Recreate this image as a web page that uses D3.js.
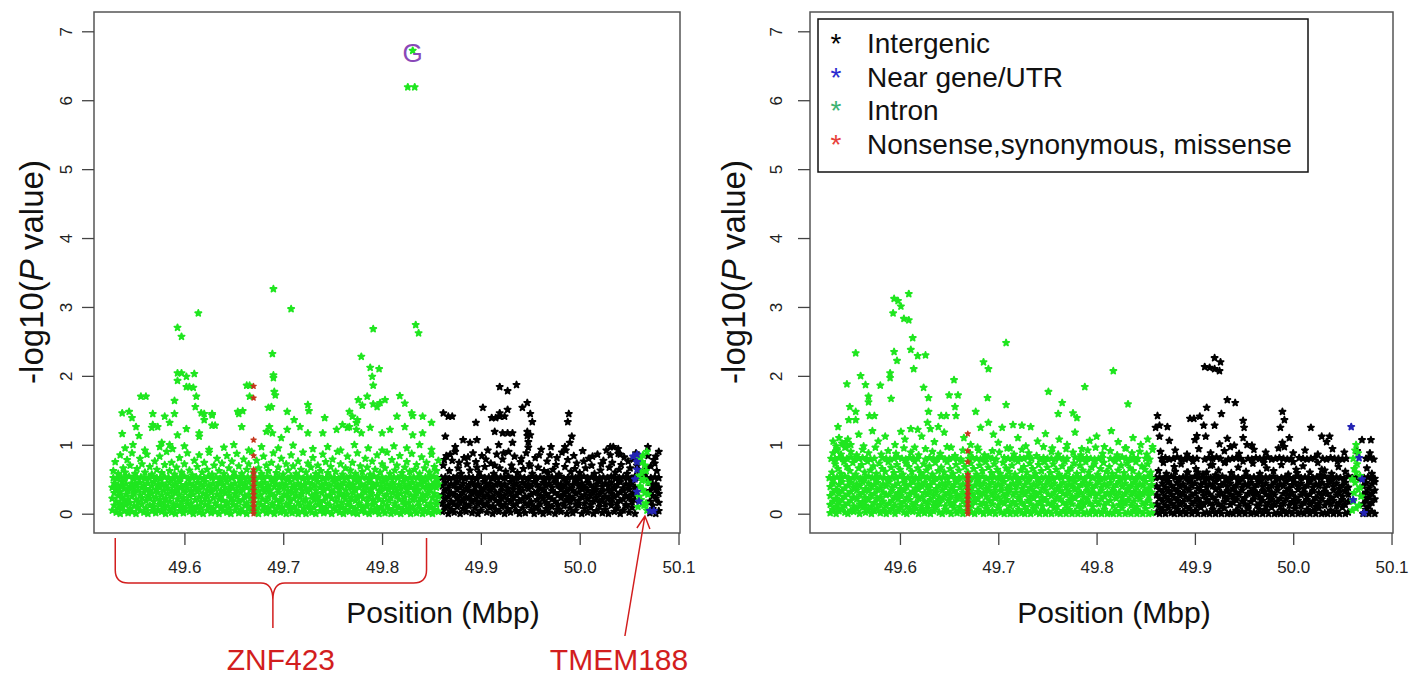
<!DOCTYPE html>
<html><head><meta charset="utf-8">
<script src="https://cdn.jsdelivr.net/npm/d3@7"></script>
<style>body{margin:0;background:#fff}svg{display:block}text{font-family:"Liberation Sans",Arial,sans-serif}</style>
</head><body>
<svg id="c" width="1415" height="678"></svg>
<script>
// Each row: [position in kb above 49,500 kb, -log10(P) x100 for each SNP at that position ...]
const leftIntron = [
[331,672],[326,619],[333,619],[93,270],[97,257],[114,291],[190,326],[208,297],[291,268],[334,274],[337,262],[189,232],[279,228],[288,212],[297,210],[290,199],[291,186],[93,204],[97,204],[102,199],[110,203],[102,184],[105,184],[109,183],[93,193],[190,201,197],[191,177],[192,172],[188,155],[185,154],[163,186],[166,186,170],[56,170],[61,170],[90,164],[112,170],[111,155],[117,146],[120,145],[128,145],[37,146],[44,148],[47,139],[68,145],[80,141],[90,145],[68,129],[67,125],[54,113],[37,116],[77,103],[85,100],[93,114],[102,123],[115,117,112],[128,128],[155,145],[159,149],[204,148],[211,136],[225,158],[226,149],[242,139],[267,148],[270,141],[274,132],[276,165],[280,157],[285,170],[291,159],[295,155],[298,161],[303,165],[318,171],[323,160],[330,146],[331,142],[350,132],[260,129],[265,125],[274,122],[51,126],[73,126],[85,132],[120,136],[128,143],[131,128],[154,148],[158,126],[186,126],[183,119],[189,117],[198,110],[204,122],[217,126],[225,117],[240,117],[254,122],[267,126],[275,136],[279,117],[288,125],[300,117],[308,122],[315,141],[323,126],[331,114],[341,117,141],[40,95],[48,100],[60,92],[75,97],[88,94],[100,98],[125,93],[140,96],[150,100],[165,92],[178,97],[195,95],[210,99],[230,94],[245,97],[258,92],[272,100],[286,95],[300,92],[312,98],[325,95],[338,100],[350,93],
[28,62],[30,75],[33,58],[35,85],[38,66],[40,60],[42,78],[45,70],[47,88],[50,58],[52,65],[55,80],[57,72],[60,60],[62,86],[65,68],[67,57],[70,76],[72,64],[75,83],[77,59],[80,71],[82,90],[85,62],[87,74],[90,57],[92,67],[95,81],[97,60],[100,72],[103,88],[105,63],[108,56],[110,77],[113,68],[115,85],[118,60],[120,74],[123,64],[125,89],[128,57],[130,70],[133,80],[135,62],[138,73],[140,58],[143,84],[145,66],[148,76],[150,60],[153,87],[155,69],[158,58],[160,79],[163,64],[165,72],[168,90],[170,60],[173,77],[175,66],[178,58],[180,83],[183,70],[185,62],[188,74],[190,88],[193,59],[195,67],[198,80],[200,57],[203,72],[205,63],[208,85],[210,69],[213,58],[215,76],[218,64],[220,89],[223,60],[225,73],[228,67],[230,81],[233,58],[235,70],[238,62],[240,86],[243,75],[245,59],[248,68],[250,79],[253,61],[255,90],[258,72],[260,57],[263,66],[265,83],[268,63],[270,74],[273,58],[275,88],[278,69],[280,61],[283,80],[285,67],[288,57],[290,76],[293,64],[295,85],[298,60],[300,72],[303,66],[305,89],[308,58],[310,78],[313,63],[315,70],[318,84],[320,59],[323,67],[325,75],[328,61],[330,87],[333,64],[335,71],[338,58],[340,82],[343,66],[345,74],[348,60],[350,86],[353,68],[355,62],[357,77],
[28,52],[32,51],[36,53],[40,52],[44,54],[48,51],[52,52],[56,53],[60,51],[64,52],[68,54],[72,52],[76,51],[80,53],[84,52],[88,51],[92,53],[96,52],[100,54],[104,51],[108,52],[112,53],[116,52],[120,51],[124,54],[128,52],[132,53],[136,51],[140,52],[144,53],[148,52],[152,54],[156,51],[160,52],[164,53],[168,52],[172,51],[176,53],[180,52],[184,54],[188,51],[192,52],[196,53],[200,52],[204,51],[208,54],[212,52],[216,53],[220,51],[224,52],[228,53],[232,52],[236,54],[240,51],[244,52],[248,53],[252,52],[256,51],[260,53],[264,52],[268,54],[272,51],[276,52],[280,53],[284,52],[288,51],[292,54],[296,52],[300,53],[304,51],[308,52],[312,53],[316,52],[320,54],[324,51],[328,52],[332,53],[336,52],[340,51],[344,53],[348,52],[352,54],[356,51],
[27,5,22,38],[29,12,30,44],[31,2,18,35],[33,8,26,41],[35,0,15,32],[37,10,24,40,46],[39,4,19,36],[41,13,28,43],[43,1,21,33],[45,7,16,39],[47,3,25,44],[49,11,30,37],[51,0,20,42],[53,9,17,34],[55,5,27,45],[57,14,23,38],[59,2,31,41],[61,8,19,36],[63,0,26,44],[65,12,22,33],[67,4,29,40],[69,10,18,46],[71,1,24,35],[73,6,31,42],[75,13,20,38],[77,3,27,44],[79,9,16,34],[81,0,22,41],[83,11,29,37],[85,5,18,45],[87,2,25,33],[89,8,14,40],[91,0,30,43],[93,12,21,36],[95,4,27,46],[97,10,17,39],[99,1,23,34],[101,7,31,42],[103,14,19,37],[105,3,26,44],[107,9,15,33],[109,0,28,41],[111,6,20,38],[113,11,32,45],[115,2,24,35],[117,8,17,42],[119,0,29,39],[121,13,22,46],[123,5,26,34],[125,10,18,41],[127,1,31,37],[129,7,23,44],[131,3,15,36],[133,12,28,40],[135,0,21,45],[137,9,25,33],[139,4,19,42],[141,11,30,38],[143,2,16,46],[145,8,27,35],[147,0,22,41],[149,13,18,37],[151,5,29,44],[153,10,24,34],[155,1,17,40],[157,6,31,45],[159,3,20,36],[161,12,26,43],[163,0,15,38],[165,9,28,46],[167,4,22,35],[169,11,19,41],[171,2,30,37],[173,7,25,44],[175,0,16,33],[177,13,27,42],[179,5,21,38],[181,10,32,45],[183,1,18,36],[185,8,24,41],[187,3,29,34],[189,12,15,46],[191,0,26,39],[193,6,20,43],[195,11,31,35],[197,2,17,40],[199,9,23,44],[201,4,28,37],[203,0,14,42],[205,13,25,33],[207,7,19,46],[209,1,30,38],[211,10,22,41],[213,5,27,35],[215,0,16,44],[217,12,24,39],[219,3,29,34],[221,8,18,42],[223,0,21,37],[225,11,32,45],[227,6,15,36],[229,2,26,43],[231,9,20,40],[233,0,28,34],[235,13,23,46],[237,4,17,38],[239,10,30,42],[241,1,19,35],[243,7,25,44],[245,3,14,37],[247,12,27,41],[249,0,22,33],[251,8,31,46],[253,5,18,39],[255,11,24,43],[257,2,29,36],[259,9,16,41],[261,0,26,45],[263,6,21,34],[265,13,28,40],[267,3,17,44],[269,10,23,37],[271,1,30,42],[273,7,19,35],[275,0,25,46],[277,12,15,38],[279,4,27,43],[281,9,22,34],[283,2,31,41],[285,11,18,37],[287,0,24,45],[289,6,29,36],[291,13,20,42],[293,3,16,39],[295,8,26,44],[297,0,21,33],[299,10,32,40],[301,5,17,46],[303,1,25,37],[305,12,28,43],[307,7,19,35],[309,0,23,41],[311,4,30,45],[313,11,15,38],[315,2,26,34],[317,9,21,42],[319,0,29,37],[321,6,18,46],[323,13,24,40],[325,3,31,35],[327,8,16,43],[329,0,27,38],[331,10,20,45],[333,5,25,36],[335,1,30,41],[337,12,17,34],[339,7,22,44],[341,0,28,39],[343,4,19,46],[345,11,26,37],[347,2,31,42],[349,9,15,35],[351,0,23,40],[353,6,29,45],[355,13,18,38],[357,3,25,43],
[559,10],[560,25,55],[561,40,80],[562,60,20],[563,75,48],[564,85,35],[565,50,12],[566,30,70],[567,15,62],[568,5,90],[569,45,28]
];
const leftIntergenic = [
[419,184],[427,178],[436,187],[447,161],[442,154],[402,154],[362,146],[367,141],[371,141],[395,132],[411,139],[415,139],[419,146,141],[424,141],[427,151],[450,145],[452,133],[489,145],[488,133],[364,112],[414,119],[422,117],[427,117],[432,103,117],[418,100],[450,114],[448,104,96],[447,119,113],[382,107],[389,103],[396,107],[374,97],[492,112],[490,103],[471,97],[485,97],[531,97],[539,94],[534,97],[541,86],[569,97],[577,83],
[362,70],[365,84],[368,62],[371,77],[374,90],[377,66],[380,58],[383,81],[386,72],[389,63],[392,88],[395,75],[398,60],[401,84],[404,68],[407,92],[410,73],[413,58],[416,86],[419,66],[422,79],[425,61],[428,90],[431,70],[434,83],[437,59],[440,75],[443,65],[446,88],[449,72],[452,58],[455,81],[458,67],[461,93],[464,62],[467,76],[470,85],[473,64],[476,71],[479,57],[482,89],[485,68],[488,78],[491,61],[494,84],[497,73],[500,59],[503,91],[506,66],[509,80],[512,70],[515,58],[518,86],[521,63],[524,77],[527,92],[530,67],[533,74],[536,60],[539,87],[542,71],[545,82],[548,58],[551,66],[554,79],[557,88],[560,63],[563,75],[566,57],[569,84],[572,69],[575,78],[578,62],[580,90],
[363,78],[369,86],[378,74],[387,82],[396,67],[405,79],[414,70],[423,88],[432,64],[441,80],[450,69],[459,85],[468,60],[477,81],[486,92],[495,65],[504,76],[513,83],[522,72],[531,85],[540,64],[549,76],[558,70],[567,66],[576,73],
[360,52],[364,53],[368,51],[372,52],[376,54],[380,52],[384,51],[388,53],[392,52],[396,51],[400,54],[404,52],[408,53],[412,51],[416,52],[420,53],[424,52],[428,54],[432,51],[436,52],[440,53],[444,52],[448,51],[452,54],[456,52],[460,53],[464,51],[468,52],[472,53],[476,52],[480,54],[484,51],[488,52],[492,53],[496,52],[500,51],[504,54],[508,52],[512,53],[516,51],[520,52],[524,53],[528,52],[532,54],[536,51],[540,52],[544,53],[548,52],[552,51],[556,54],[560,52],[564,53],[568,51],[572,52],[576,53],[580,52],
[361,3,15,27,40],[364,9,21,33,45],[367,0,12,25,37],[370,6,18,30,43],[373,2,14,28,41],[376,10,22,35,46],[379,0,16,26,38],[382,7,19,31,44],[385,3,13,24,36],[388,11,23,34,42],[391,1,17,29,45],[394,8,20,32,39],[397,0,14,26,43],[400,5,18,30,37],[403,12,24,35,46],[406,2,15,27,40],[409,9,21,33,44],[412,0,11,25,38],[415,6,19,31,42],[418,3,16,28,45],[421,10,22,34,39],[424,0,13,26,43],[427,7,20,32,37],[430,2,17,29,46],[433,11,23,35,40],[436,4,14,27,44],[439,0,19,31,38],[442,8,21,33,45],[445,1,15,25,41],[448,12,24,36,43],[451,5,17,28,39],[454,0,10,30,46],[457,9,20,32,42],[460,3,14,26,37],[463,0,22,34,45],[466,7,16,29,40],[469,2,12,24,44],[472,10,21,33,38],[475,0,18,30,46],[478,6,13,27,41],[481,3,23,35,43],[484,11,15,28,39],[487,0,20,32,45],[490,8,17,25,37],[493,1,22,34,42],[496,5,14,29,46],[499,12,19,31,40],[502,0,24,36,44],[505,7,15,27,38],[508,2,21,33,45],[511,9,13,26,41],[514,0,18,30,37],[517,4,23,35,43],[520,10,16,28,46],[523,1,20,32,39],[526,6,14,25,44],[529,0,22,34,40],[532,12,17,29,45],[535,3,24,36,38],[538,8,15,27,42],[541,0,19,31,46],[544,5,21,33,37],[547,11,13,26,43],[550,2,23,35,40],[553,9,17,28,45],[556,0,20,30,38],[571,1,18,33,45],[574,7,12,26,40],[577,0,22,35,43],[580,4,16,29,38]
];
const leftNearGene = [[558,86,75,64,32],[554,83],[571,4],[575,4],[556,50],[560,18]];
const leftCoding = [[170,185,168,107,84,64,58,52,46,40,34,28,22,16,10,4,0]];

const rightIntron = [
[94,312],[98,309],[101,301],[109,319],[93,291],[104,283],[109,281],[113,255],[111,238],[118,229],[126,230],[114,210],[94,235],[97,222],[55,233],[90,204,197],[60,200],[46,188],[65,187],[80,186],[68,170,162],[91,167],[124,183],[129,168],[155,194],[150,172],[159,172],[156,155],[157,142],[185,220],[190,210],[208,248],[189,168],[208,158],[251,177],[265,161],[288,184],[317,207],[332,159],[261,145],[276,146],[280,139],[49,155],[55,148],[48,136],[55,136],[37,126],[69,142],[74,142],[129,148],[128,132],[142,142],[147,142],[177,148],[182,125],[190,132],[204,125],[215,129],[224,128],[233,126],[131,123],[139,126],[118,122],[111,123],[101,119],[45,104],[32,105],[35,98],[38,110],[41,102],[44,96],[47,108],[50,100],[36,92],[58,115],[63,98],[72,120],[78,105],[85,112],[95,100],[105,108],[115,96],[122,112],[135,104],[145,118],[152,96],[165,110],[172,100],[180,92],[195,115],[200,103],[212,95],[220,110],[228,98],[240,105],[248,116],[255,95],[262,108],[270,100],[278,118],[285,94],[293,106],[300,112],[308,97],[315,120],[322,104],[330,95],[337,110],[345,100],[352,108],[357,93],
[32,88],[36,94],[40,86],[45,97],[50,90],[56,85],[62,93],[68,88],[75,96],[81,86],[88,91],[96,87],[104,95],[111,89],[119,85],[126,94],[133,90],[141,87],[148,97],[156,84],[164,92],[171,88],[179,96],[186,85],[194,91],[201,89],[209,95],[216,86],[224,93],[231,88],[239,84],[246,97],[254,90],[261,86],[269,94],[276,89],[284,85],[291,92],[299,96],[306,87],[314,91],[321,85],[329,95],[336,88],[344,90],[351,86],[357,97],
[30,80],[34,79],[38,81],[42,80],[46,80],[50,82],[54,79],[58,80],[62,81],[66,80],[70,79],[74,80],[82,81],[86,80],[90,79],[94,80],[98,82],[102,80],[106,79],[110,81],[114,80],[118,80],[126,79],[130,81],[134,80],[138,80],[142,82],[146,79],[150,80],[154,81],[158,80],[162,79],[170,80],[174,81],[178,80],[182,79],[186,80],[190,82],[194,80],[198,79],[206,81],[210,80],[214,80],[218,79],[222,81],[226,80],[230,82],[234,80],[242,79],[246,81],[250,80],[254,80],[258,79],[262,81],[266,80],[270,80],[278,82],[282,79],[286,80],[290,81],[294,80],[298,79],[302,80],[306,81],[314,80],[318,79],[322,80],[326,82],[330,80],[334,79],[338,81],[342,80],[350,80],[354,79],
[31,60],[34,72],[37,65],[40,58],[43,75],[46,68],[49,62],[52,74],[55,57],[58,66],[61,71],[64,60],[67,76],[70,63],[73,69],[76,58],[79,73],[82,65],[85,61],[88,75],[91,67],[94,59],[97,71],[100,64],[103,57],[106,73],[109,68],[112,61],[115,76],[118,66],[121,59],[124,72],[127,63],[130,69],[133,57],[136,74],[139,62],[142,67],[145,60],[148,75],[151,65],[154,58],[157,71],[160,63],[163,76],[166,68],[169,60],[172,73],[175,65],[178,57],[181,70],[184,62],[187,75],[190,67],[193,59],[196,72],[199,64],[202,58],[205,74],[208,66],[211,61],[214,70],[217,57],[220,76],[223,63],[226,68],[229,60],[232,73],[235,65],[238,58],[241,71],[244,62],[247,75],[250,67],[253,59],[256,72],[259,64],[262,57],[265,69],[268,76],[271,61],[274,66],[277,73],[280,58],[283,70],[286,63],[289,75],[292,60],[295,67],[298,72],[301,57],[304,65],[307,74],[310,61],[313,68],[316,58],[319,76],[322,63],[325,70],[328,59],[331,73],[334,66],[337,62],[340,75],[343,57],[346,69],[349,64],[352,72],[355,60],
[28,52],[32,51],[36,53],[40,52],[44,54],[48,51],[52,52],[56,53],[60,51],[64,52],[68,54],[72,52],[76,51],[80,53],[84,52],[88,51],[92,53],[96,52],[100,54],[104,51],[108,52],[112,53],[116,52],[120,51],[124,54],[128,52],[132,53],[136,51],[140,52],[144,53],[148,52],[152,54],[156,51],[160,52],[164,53],[168,52],[172,51],[176,53],[180,52],[184,54],[188,51],[192,52],[196,53],[200,52],[204,51],[208,54],[212,52],[216,53],[220,51],[224,52],[228,53],[232,52],[236,54],[240,51],[244,52],[248,53],[252,52],[256,51],[260,53],[264,52],[268,54],[272,51],[276,52],[280,53],[284,52],[288,51],[292,54],[296,52],[300,53],[304,51],[308,52],[312,53],[316,52],[320,54],[324,51],[328,52],[332,53],[336,52],[340,51],[344,53],[348,52],[352,54],[356,51],
[29,1,13,26,39],[32,6,18,31,44],[35,0,10,22,35],[38,4,16,29,42],[41,8,20,33,46],[44,2,12,25,37],[47,0,15,28,41],[50,5,19,32,45],[53,3,11,24,38],[56,7,21,34,43],[59,0,14,27,40],[62,9,17,30,46],[65,2,12,23,36],[68,6,20,33,44],[71,0,10,26,39],[74,4,16,29,42],[77,8,22,35,45],[80,1,13,24,37],[83,5,18,31,43],[86,0,11,27,40],[89,3,15,28,46],[92,7,19,34,38],[95,0,12,25,41],[98,4,21,30,44],[101,9,14,26,36],[104,2,17,33,45],[107,0,10,23,39],[110,6,20,29,42],[113,3,13,32,46],[116,8,16,27,37],[119,0,22,35,43],[122,5,11,24,40],[125,1,18,30,45],[128,7,14,28,38],[131,0,20,33,42],[134,4,12,26,46],[137,9,17,31,36],[140,2,15,24,41],[143,0,21,34,44],[146,6,11,27,39],[149,3,19,30,45],[152,0,13,25,37],[155,8,16,33,42],[158,1,22,28,46],[161,5,10,24,38],[164,0,18,31,43],[167,4,14,26,40],[170,9,20,35,45],[173,2,12,29,37],[176,0,17,23,41],[179,6,21,32,46],[182,3,13,27,39],[185,0,16,30,44],[188,7,11,25,36],[191,1,19,34,42],[194,4,14,28,45],[197,0,22,31,38],[200,8,12,24,43],[203,2,18,33,40],[206,0,15,26,46],[209,5,20,29,37],[212,0,11,35,41],[215,3,17,27,44],[218,0,13,31,39],[221,6,21,24,45],[224,1,16,30,36],[227,0,10,28,42],[230,4,19,33,46],[233,0,14,25,38],[236,7,22,32,43],[239,2,12,27,40],[242,0,17,30,45],[245,5,11,23,37],[248,0,20,34,42],[251,3,15,28,46],[254,0,13,26,39],[257,8,18,31,44],[260,1,10,24,36],[263,0,21,33,41],[266,4,16,29,45],[269,0,12,27,38],[272,6,19,32,43],[275,0,14,25,40],[278,3,22,35,46],[281,0,11,28,37],[284,7,17,30,42],[287,0,13,24,45],[290,2,20,33,39],[293,0,15,27,44],[296,5,10,31,36],[299,0,18,26,41],[302,3,14,29,46],[305,0,21,34,38],[308,6,12,25,43],[311,0,16,30,40],[314,1,19,28,45],[317,0,11,33,37],[320,4,22,26,42],[323,0,13,31,46],[326,8,17,24,39],[329,0,15,29,44],[332,2,20,35,36],[335,0,12,27,41],[338,5,18,32,45],[341,0,10,25,38],[344,3,21,30,43],[347,0,14,28,40],[350,7,16,33,46],[353,0,19,26,37],[356,1,12,31,42],
[560,5,50],[561,18,80],[562,30,65],[563,45,92],[564,60,8,100],[565,72],[566,88,35],[567,12],[568,38,55],[569,25]
];
const rightIntergenic = [
[420,226],[426,220],[410,213],[415,212],[420,210],[425,207],[433,165],[441,161],[412,154],[427,145],[395,138],[399,138],[405,141],[409,128],[420,128],[362,142],[360,125],[364,128,112],[372,126],[374,106],[402,113],[400,107],[411,112],[425,101],[433,109],[436,97],[440,99],[449,135,110],[450,125],[453,100],[458,99],[489,148,103],[491,136,97],[487,125],[496,110],[518,125],[529,112],[537,112],[534,104],[570,107],[579,107],[365,90],[380,92],[392,86],[404,94],[416,88],[430,91],[445,87],[460,93],[472,89],[485,95],[500,88],[512,92],[525,86],[540,94],[552,89],[565,91],[578,88],[380,61],[392,60],[403,60],[412,60],[504,59],[529,64],[418,71],[430,74],
[363,62],[371,58],[379,68],[386,72],[393,60],[401,65],[408,57],[416,70],[424,63],[431,75],[437,59],[444,67],[452,61],[459,73],[466,58],[473,66],[480,62],[488,71],[495,57],[503,64],[510,69],[517,60],[525,74],[532,63],[539,58],[546,68],[553,61],[575,66],[580,58],[368,74],[398,76],[421,56],[449,76],[470,74],[500,75],[528,56],[545,76],
[366,80],[370,81],[374,79],[378,80],[382,82],[386,80],[390,79],[394,81],[398,80],[402,80],[410,79],[414,81],[418,80],[422,82],[426,80],[434,79],[438,80],[442,81],[446,80],[454,80],[458,79],[462,81],[466,80],[470,80],[474,82],[478,79],[482,80],[486,81],[490,80],[494,79],[498,80],[506,81],[510,80],[514,79],[518,80],[522,81],[530,80],[534,79],[538,81],[542,80],[546,80],[550,79],[554,80],[574,80],[578,81],[582,79],
[360,52],[364,53],[368,51],[372,52],[376,54],[380,52],[384,51],[388,53],[392,52],[396,51],[400,54],[404,52],[408,53],[412,51],[416,52],[420,53],[424,52],[428,54],[432,51],[436,52],[440,53],[444,52],[448,51],[452,54],[456,52],[460,53],[464,51],[468,52],[472,53],[476,52],[480,54],[484,51],[488,52],[492,53],[496,52],[500,51],[504,54],[508,52],[512,53],[516,51],[520,52],[524,53],[528,52],[532,54],[536,51],[540,52],[544,53],[548,52],[552,51],[556,54],[560,52],[564,53],[568,51],[572,52],[576,53],[580,52],[583,51],
[361,2,14,27,40],[364,0,9,22,35],[367,5,18,31,44],[370,0,12,25,38],[373,8,20,33,46],[376,1,15,28,41],[379,0,11,23,36],[382,6,19,32,45],[385,0,13,26,39],[388,3,17,30,43],[391,0,10,24,37],[394,7,21,34,46],[397,0,14,27,40],[400,4,18,29,44],[403,0,11,22,36],[406,9,16,33,42],[409,0,13,26,45],[412,2,20,31,38],[415,0,15,28,43],[418,6,12,24,40],[421,0,19,35,46],[424,3,14,27,37],[427,0,10,30,42],[430,8,17,25,45],[433,0,21,33,39],[436,1,13,28,44],[439,0,16,24,36],[442,5,20,31,41],[445,0,11,27,46],[448,3,18,34,38],[451,0,14,23,43],[454,7,10,29,40],[457,0,17,32,45],[460,2,21,26,37],[463,0,12,30,42],[466,6,15,24,46],[469,0,19,33,39],[472,4,11,28,44],[475,0,16,25,36],[478,9,20,31,41],[481,0,13,27,45],[484,1,18,34,38],[487,0,10,22,43],[490,5,15,29,40],[493,0,21,32,46],[496,3,12,26,37],[499,0,17,30,42],[502,7,14,24,45],[505,0,19,35,39],[508,2,11,27,44],[511,0,16,31,36],[514,6,20,25,41],[517,0,13,28,46],[520,4,18,33,38],[523,0,10,23,43],[526,8,15,30,40],[529,0,21,26,45],[532,1,12,32,37],[535,0,17,29,42],[538,5,14,24,46],[541,0,19,34,39],[544,3,11,27,44],[547,0,16,31,36],[550,9,20,25,41],[553,0,13,33,45],[556,2,18,28,38],[571,0,14,27,40],[574,6,19,31,45],[577,0,11,24,37],[580,3,16,29,43],[583,0,21,34,46]
];
const rightNearGene = [[559,126],[567,81],[572,1],[570,50],[561,20]];
const rightCoding = [[169,116,91,75,57,52,46,40,34,28,22,16,10,4,0]];

const xTicks = [49.6, 49.7, 49.8, 49.9, 50.0, 50.1];
const yTicks = [0, 1, 2, 3, 4, 5, 6, 7];
const legendLabels = ["Intergenic", "Near gene/UTR", "Intron", "Nonsense,synonymous, missense"];
const pointLabels = [{kb: 331, v: 672, text: "G"}];
const genes = [{name: "ZNF423", startKb: 30, endKb: 345}, {name: "TMEM188", kb: 568}];

// ---- styles ----
const ptColor = {inter: "#000000", near: "#2424b4", intron: "#1fe61f", coding: "#c4361c"};
const legColor = ["#000000", "#2b2bd0", "#3cb371", "#e8403a"];
const annRed = "#d21e1e";

const svg = d3.select("#c");
function toPts(rows) {
  const out = [];
  rows.forEach(r => { for (let j = 1; j < r.length; j++) out.push({pos: 49.5 + r[0] / 1000, p: r[j] / 100}); });
  return out;
}
const star = d3.symbol().type(d3.symbolStar).size(12)();
const starSmall = d3.symbol().type(d3.symbolStar).size(9)();

function panel(cfg) {
  const x = d3.scaleLinear().domain([49.5085, 50.1015]).range([cfg.x0, cfg.x1]);
  const y = d3.scaleLinear().domain([-0.28, 7.28]).range([533, 12]);
  const g = svg.append("g");
  const layers = [[cfg.inter, ptColor.inter, star, 1.8], [cfg.intron, ptColor.intron, star, 1.8],
                  [cfg.near, ptColor.near, star, 1.8], [cfg.coding, ptColor.coding, starSmall, 1.1]];
  layers.forEach(([rows, col, sym, sw]) => {
    g.append("g").selectAll("path").data(toPts(rows)).join("path")
      .attr("d", sym)
      .attr("transform", d => `translate(${x(d.pos).toFixed(1)},${y(d.p).toFixed(1)})`)
      .attr("fill", col).attr("stroke", col).attr("stroke-width", sw).attr("stroke-linejoin", "round");
  });
  g.append("rect").attr("x", cfg.x0).attr("y", 12).attr("width", cfg.x1 - cfg.x0).attr("height", 521)
    .attr("fill", "none").attr("stroke", "#555").attr("stroke-width", 1.5);
  const ax = g.append("g").attr("transform", "translate(0,533)")
    .call(d3.axisBottom(x).tickValues(xTicks).tickSize(12).tickPadding(16).tickFormat(d3.format(".1f")));
  ax.select(".domain").remove();
  ax.selectAll("line").attr("stroke", "#444").attr("stroke-width", 1.3);
  ax.selectAll("text").attr("font-size", 17).attr("fill", "#222").attr("font-family", "Liberation Sans, Arial, sans-serif");
  const ay = g.append("g").attr("transform", `translate(${cfg.x0},0)`)
    .call(d3.axisLeft(y).tickValues(yTicks).tickSize(12));
  ay.select(".domain").remove();
  ay.selectAll("line").attr("stroke", "#444").attr("stroke-width", 1.3);
  ay.selectAll("text").attr("x", null).attr("dy", null).attr("y", null)
    .attr("transform", `translate(${cfg.yTickOff},0) rotate(-90)`)
    .attr("text-anchor", "middle").attr("font-size", 17).attr("fill", "#222")
    .attr("font-family", "Liberation Sans, Arial, sans-serif");
  const yl = g.append("text").attr("transform", `translate(${cfg.yLabX},272) rotate(-90)`)
    .attr("text-anchor", "middle").attr("font-size", 33).attr("fill", "#111");
  yl.append("tspan").text("-log10(");
  yl.append("tspan").attr("font-style", "italic").text("P");
  yl.append("tspan").text(" value)");
  g.append("text").attr("x", cfg.xLabX).attr("y", 623).attr("text-anchor", "middle")
    .attr("font-size", 30).attr("fill", "#111").text("Position (Mbp)");
  return {x, y, g};
}

const L = panel({x0: 94, x1: 680, yTickOff: -22, yLabX: 43, xLabX: 443,
  inter: leftIntergenic, intron: leftIntron, near: leftNearGene, coding: leftCoding});
const R = panel({x0: 810, x1: 1393, yTickOff: -28, yLabX: 745, xLabX: 1114,
  inter: rightIntergenic, intron: rightIntron, near: rightNearGene, coding: rightCoding});

// lead SNP label
pointLabels.forEach(d => {
  L.g.append("text").attr("x", L.x(49.5 + d.kb / 1000)).attr("y", L.y(d.v / 100) + 11)
    .attr("text-anchor", "middle").attr("font-size", 26).attr("fill", "#8a48b8").text(d.text);
  L.g.append("path").attr("d", starSmall).attr("fill", ptColor.intron).attr("stroke", ptColor.intron).attr("stroke-width", 1)
    .attr("transform", `translate(${L.x(49.5 + d.kb / 1000)},${L.y(d.v / 100)})`);
});

// legend
const lg = svg.append("g");
lg.append("rect").attr("x", 818).attr("y", 19).attr("width", 490).attr("height", 153)
  .attr("fill", "#fff").attr("stroke", "#111").attr("stroke-width", 1.5);
legendLabels.forEach((t, i) => {
  const by = 53 + i * 33.7;
  lg.append("text").attr("x", 836).attr("y", by).attr("text-anchor", "middle").attr("font-size", 28).attr("fill", legColor[i]).text("*");
  lg.append("text").attr("x", 867).attr("y", by).attr("font-size", 28).attr("fill", "#111").text(t);
});

// gene annotations (left panel)
const zn = genes[0], tm = genes[1];
const bx1 = L.x(49.5 + zn.startKb / 1000), bx2 = L.x(49.5 + zn.endKb / 1000), bm = (bx1 + bx2) / 2 + 2;
const bp = d3.path();
bp.moveTo(bx1, 538); bp.lineTo(bx1, 570); bp.quadraticCurveTo(bx1, 583, bx1 + 13, 583);
bp.lineTo(bm - 12, 583); bp.quadraticCurveTo(bm, 583, bm, 600); bp.lineTo(bm, 628);
bp.moveTo(bx2, 538); bp.lineTo(bx2, 570); bp.quadraticCurveTo(bx2, 583, bx2 - 13, 583);
bp.lineTo(bm + 12, 583); bp.quadraticCurveTo(bm, 583, bm, 600);
svg.append("path").attr("d", bp.toString()).attr("fill", "none").attr("stroke", annRed).attr("stroke-width", 1.5);
svg.append("text").attr("x", bm + 8).attr("y", 670).attr("text-anchor", "middle")
  .attr("font-family", "Lato, sans-serif").attr("font-size", 30).attr("fill", annRed).text(zn.name);
const tx = L.x(49.5 + tm.kb / 1000) - 2;
const ap = d3.path();
ap.moveTo(tx - 20, 636); ap.lineTo(tx, 516);
ap.moveTo(tx - 8, 528); ap.lineTo(tx, 516); ap.lineTo(tx + 5, 529);
svg.append("path").attr("d", ap.toString()).attr("fill", "none").attr("stroke", annRed).attr("stroke-width", 1.5);
svg.append("text").attr("x", 619).attr("y", 670).attr("text-anchor", "middle")
  .attr("font-family", "Lato, sans-serif").attr("font-size", 30).attr("fill", annRed).text(tm.name);
</script>
</body></html>
